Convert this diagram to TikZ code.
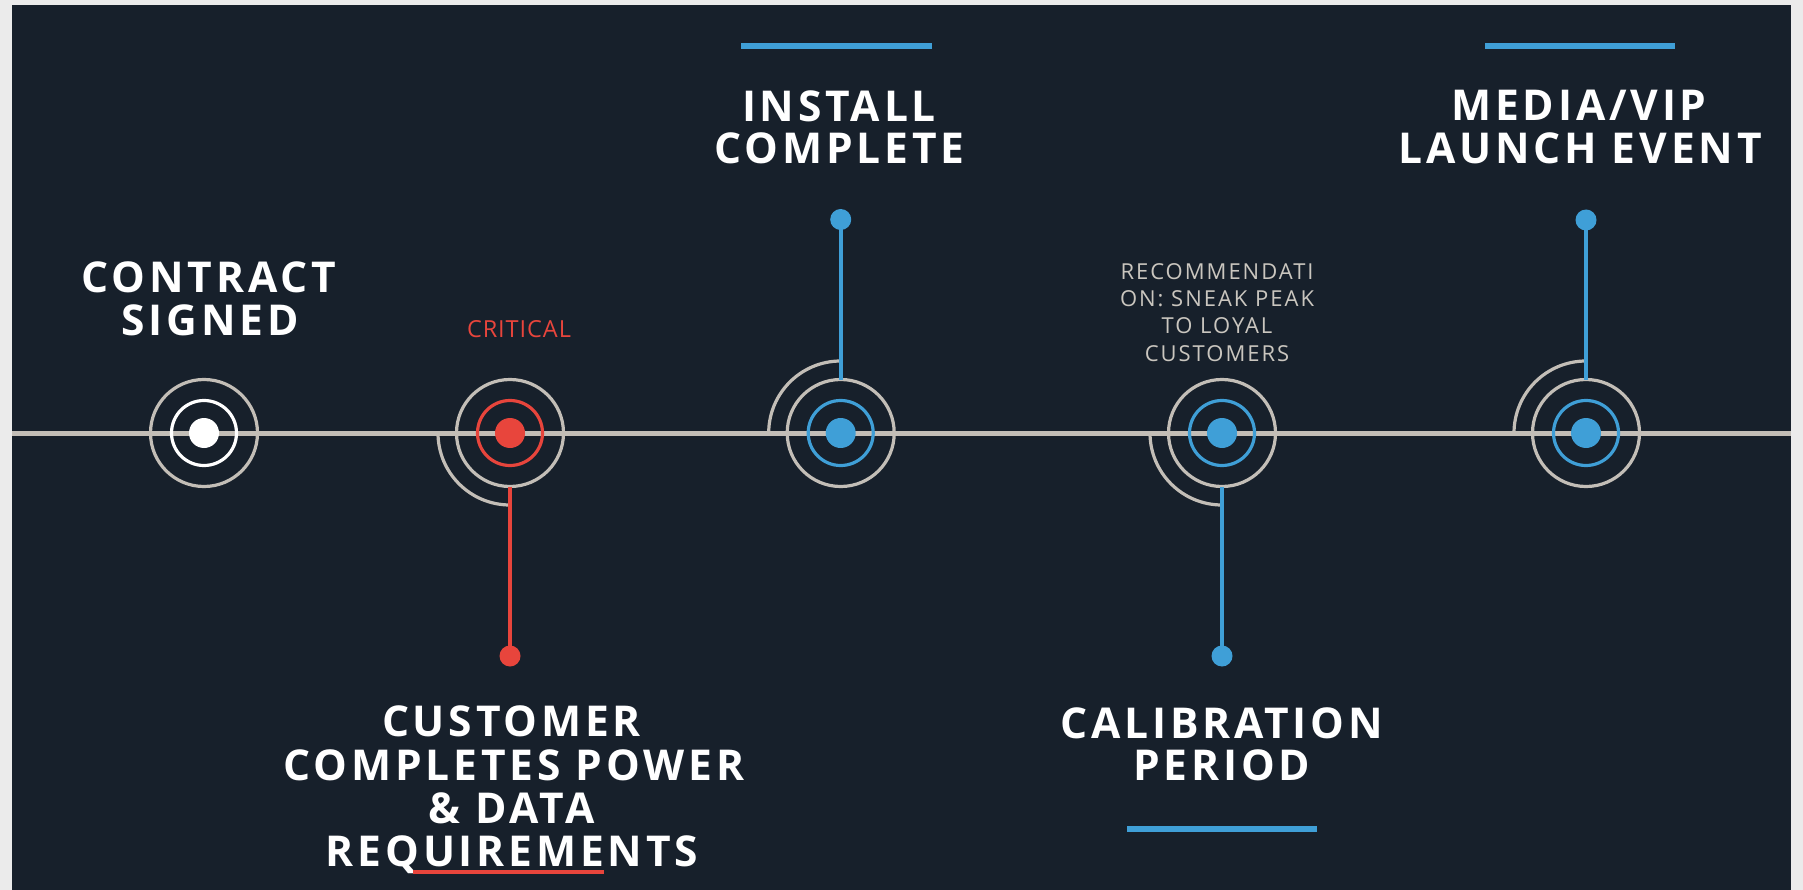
\documentclass[tikz,border=0pt]{standalone}
\usepackage{fontspec}
\newfontfamily\titlefont[LetterSpace=9]{Open Sans}
\newfontfamily\notefont[LetterSpace=9]{Open Sans}
\newfontfamily\critfont[LetterSpace=4]{Open Sans}
\definecolor{bgdark}{HTML}{17202B}
\definecolor{outerbg}{HTML}{EBEBEB}
\definecolor{lgray}{HTML}{C3BEB7}
\definecolor{tblue}{HTML}{3F9FD7}
\definecolor{tred}{HTML}{E8453C}
\definecolor{notegray}{HTML}{CAC6BF}
\tikzset{
  ringout/.style={circle, draw=lgray, line width=3.2pt, minimum size=107pt, inner sep=0pt, outer sep=0pt},
  ringin/.style={circle, draw=#1, line width=3.2pt, minimum size=65pt, inner sep=0pt, outer sep=0pt},
  cdot/.style={circle, fill=#1, minimum size=30pt, inner sep=0pt, outer sep=0pt},
  enddot/.style={circle, fill=#1, minimum size=21pt, inner sep=0pt, outer sep=0pt},
  stem/.style={draw=#1, line width=4pt},
  outarc/.style={draw=lgray, line width=3.2pt},
  bar/.style={draw=tblue, line width=6pt},
  title/.style={text=white, anchor=base, inner sep=0pt, font=\titlefont\bfseries\fontsize{42.5}{44}\selectfont},
  note/.style={text=notegray, anchor=base, inner sep=0pt, font=\notefont\fontsize{22}{27}\selectfont},
  crit/.style={text=tred, anchor=base, inner sep=0pt, font=\critfont\fontsize{23.5}{27}\selectfont},
}
\begin{document}
\begin{tikzpicture}[x=1pt,y=-1pt]
\fill[outerbg] (0,0) rectangle (1803,890);
\fill[bgdark] (12,5) rectangle (1791,890);
\useasboundingbox (0,0) rectangle (1803,890);
% timeline
\coordinate (tlL) at (12,433);
\coordinate (tlR) at (1791,433);
\draw[draw=lgray, line width=5pt] (tlL) -- (tlR);
% outer arcs
\draw[outarc] (840.7-72,433) arc[start angle=180, end angle=270, radius=72];
\draw[outarc] (1586-72,433) arc[start angle=180, end angle=270, radius=72];
\draw[outarc] (510-72,433) arc[start angle=180, end angle=90, radius=72];
\draw[outarc] (1222-72,433) arc[start angle=180, end angle=90, radius=72];
% milestone 1
\node[ringout] (r1) at (204,433) {};
\node[ringin=white] (i1) at (204,433) {};
\node[cdot=white] (c1) at (204,433) {};
% milestone 2
\node[ringout] (r2) at (510,433) {};
\node[ringin=tred] (i2) at (510,433) {};
\node[cdot=tred] (c2) at (510,433) {};
\node[enddot=tred] (d2) at (510,656) {};
\draw[stem=tred] (r2.south) -- (d2.center);
% milestone 3
\node[ringout] (r3) at (840.7,433) {};
\node[ringin=tblue] (i3) at (840.7,433) {};
\node[cdot=tblue] (c3) at (840.7,433) {};
\node[enddot=tblue] (d3) at (840.7,219.5) {};
\draw[stem=tblue] (r3.north) -- (d3.center);
% milestone 4
\node[ringout] (r4) at (1222,433) {};
\node[ringin=tblue] (i4) at (1222,433) {};
\node[cdot=tblue] (c4) at (1222,433) {};
\node[enddot=tblue] (d4) at (1222,656) {};
\draw[stem=tblue] (r4.south) -- (d4.center);
% milestone 5
\node[ringout] (r5) at (1586,433) {};
\node[ringin=tblue] (i5) at (1586,433) {};
\node[cdot=tblue] (c5) at (1586,433) {};
\node[enddot=tblue] (d5) at (1586,220) {};
\draw[stem=tblue] (r5.north) -- (d5.center);
% bars
\draw[bar] (741,46) -- (932,46);
\draw[bar] (1485,46) -- (1675,46);
\draw[bar] (1127,829) -- (1317,829);
% titles
\node[title] (t1a) at (209,293) {CONTRACT};
\node[title] (t1b) at (210,335) {SIGNED};
\node[crit] (cr) at (519,337.3) {CRITICAL};
\node[title] (t3a) at (839,121.7) {INSTALL};
\node[title] (t3b) at (839.5,164) {COMPLETE};
\node[title] (t5a) at (1579,120.5) {MEDIA/VIP};
\node[title] (t5b) at (1580,163.5) {LAUNCH EVENT};
\node[note] (n4a) at (1217,279.3) {RECOMMENDATI};
\node[note] (n4b) at (1217,306.7) {ON: SNEAK PEAK};
\node[note] (n4c) at (1217,334) {TO LOYAL};
\node[note] (n4d) at (1217,361.6) {CUSTOMERS};
\node[title] (t2a) at (511.5,736.7) {CUSTOMER};
\node[title] (t2b) at (514,780.5) {COMPLETES POWER};
\node[title] (t2c) at (511.5,823.2) {\& DATA};
\node[title] (t2d) at (512,866.7) {REQUIREMENTS};
\node[title] (t4a) at (1221.6,738.3) {CALIBRATION};
\node[title] (t4b) at (1221.7,780.3) {PERIOD};
% spell-check underline
\draw[draw=tred, line width=4pt] (413,872) -- (604,872);
\end{tikzpicture}
\end{document}
